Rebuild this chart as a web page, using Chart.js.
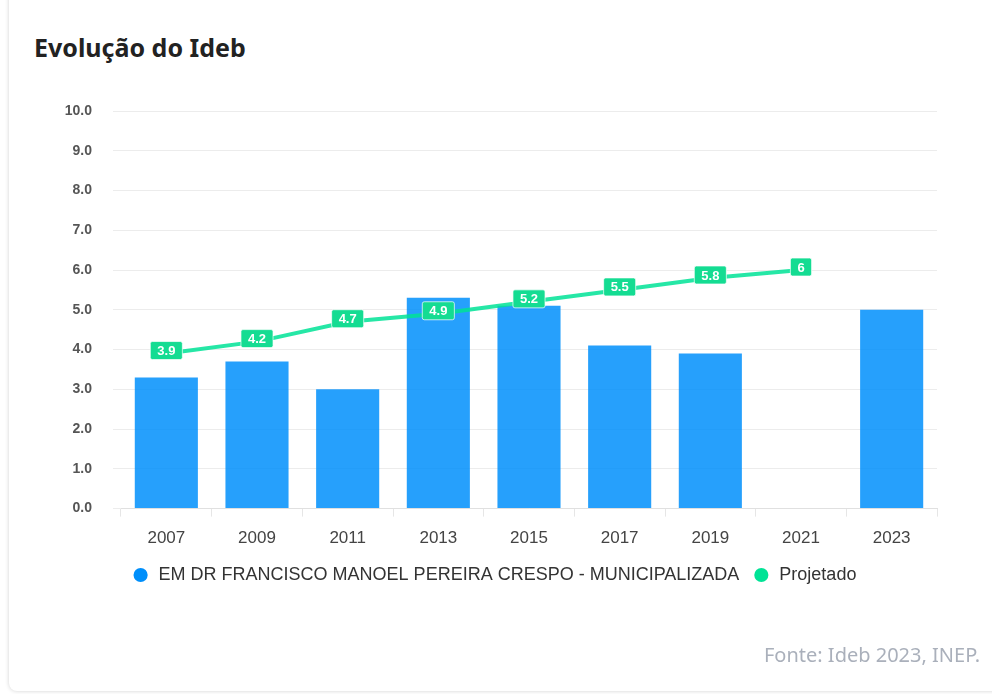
<!DOCTYPE html>
<html>
<head>
<meta charset="utf-8">
<script src="https://cdn.jsdelivr.net/npm/chart.js@4.4.1/dist/chart.umd.min.js"></script>
<style>
    body { margin: 0; background: #fff; width: 992px; height: 694px; overflow: hidden; position: relative; }
    .card { position: absolute; left: 9px; top: -20px; width: 1100px; height: 711px; background: #fff; border-radius: 8px; box-shadow: 0 0 4px rgba(0, 0, 0, 0.18); }
    .title { position: absolute; left: 34px; top: 34px; font: bold 25px "Noto Sans", sans-serif; color: #222; line-height: 26px; }
    .fonte { position: absolute; right: 12px; top: 641px; font: 20px "Noto Sans", sans-serif; color: #aab0bb; }
    .wrap { position: absolute; left: 0; top: 0; width: 992px; height: 694px; }
</style>
</head>
<body>
<div class="card"></div>
<div class="title">Evolução do Ideb</div>
<div class="wrap"><canvas id="ideb"></canvas></div>
<div class="fonte">Fonte: Ideb 2023, INEP.</div>
<script>
// dados
var anos = ["2007", "2009", "2011", "2013", "2015", "2017", "2019", "2021", "2023"]
var escola = [3.3, 3.7, 3.0, 5.3, 5.1, 4.1, 3.9, null, 5.0]
var projetado = [3.9, 4.2, 4.7, 4.9, 5.2, 5.5, 5.8, 6, null]
var yTicks = [0, 1, 2, 3, 4, 5, 6, 7, 8, 9, 10]

var nomeEscola = "EM DR FRANCISCO MANOEL PEREIRA CRESPO - MUNICIPALIZADA"
var corLegenda = ["#008FFB", "#00E396"]

Chart.defaults.font.family = "'Liberation Sans', Arial, sans-serif"

// caixinhas com o valor projetado
var rotulos = {
    id: "rotulos",
    afterDatasetsDraw(chart) {
        var ctx = chart.ctx
        var meta = chart.getDatasetMeta(1)
        ctx.save()
        ctx.font = "bold 13px 'Liberation Sans', Arial, sans-serif"
        ctx.textAlign = "center"
        ctx.textBaseline = "middle"
        meta.data.forEach(function (pt, i) {
            var v = projetado[i]
            if (v == null) return
            var txt = String(v)
            var w = ctx.measureText(txt).width + 14
            var h = 18
            var cx = pt.x, cy = pt.y - 3
            ctx.beginPath()
            ctx.roundRect(cx - w / 2, cy - h / 2, w, h, 2)
            ctx.fillStyle = "#14dc92"
            ctx.fill()
            ctx.lineWidth = 1
            ctx.strokeStyle = "rgba(255,255,255,0.7)"
            ctx.stroke()
            ctx.fillStyle = "#fff"
            ctx.fillText(txt, cx, cy + 1)
        })
        ctx.restore()
    },
}

new Chart("ideb", {
    type: "bar",
    data: {
        labels: anos,
        datasets: [
            {
                label: nomeEscola,
                data: escola,
                backgroundColor: "rgba(0, 143, 251, 0.85)",
                categoryPercentage: 0.8,
                barPercentage: 0.87,
                order: 1,
            },
            {
                type: "line",
                label: "Projetado",
                data: projetado,
                borderColor: "rgba(0, 227, 150, 0.85)",
                backgroundColor: "#00E396",
                borderWidth: 4,
                pointRadius: 0,
                tension: 0,
                order: 0,
            },
        ],
    },
    options: {
        responsive: true,
        maintainAspectRatio: false,
        animation: false,
        layout: { padding: { left: 51, right: 55, top: 111, bottom: 100 } },
        plugins: {
            tooltip: { enabled: false },
            legend: {
                position: "bottom",
                labels: {
                    usePointStyle: true,
                    boxHeight: 10,
                    padding: 13,
                    color: "#333",
                    font: { size: 18 },
                    sort: function (a, b) { return a.datasetIndex - b.datasetIndex },
                    generateLabels: function (chart) {
                        var items = Chart.defaults.plugins.legend.labels.generateLabels(chart)
                        items.forEach(function (it) {
                            it.fillStyle = corLegenda[it.datasetIndex]
                            it.strokeStyle = corLegenda[it.datasetIndex]
                            it.lineWidth = 0
                            it.pointStyle = "circle"
                        })
                        return items
                    },
                },
            },
        },
        scales: {
            x: {
                afterFit: function (scale) { scale.height = scale.height - 8 },
                grid: { drawOnChartArea: false, color: "#e6e6e6", tickLength: 8 },
                border: { color: "#e0e0e0" },
                ticks: { color: "#444", padding: 12, font: { size: 17 } },
            },
            y: {
                min: 0,
                max: 10,
                afterFit: function (scale) { scale.width = 70 },
                afterBuildTicks: function (scale) {
                    scale.ticks = yTicks.map(function (v) { return { value: v } })
                },
                grid: { color: "#ececec", tickLength: 8 },
                border: { display: false },
                ticks: {
                    color: "#555",
                    padding: 21,
                    font: { size: 14, weight: "bold" },
                    callback: function (v) { return Number(v).toFixed(1) },
                },
            },
        },
    },
    plugins: [rotulos],
})
</script>
</body>
</html>
